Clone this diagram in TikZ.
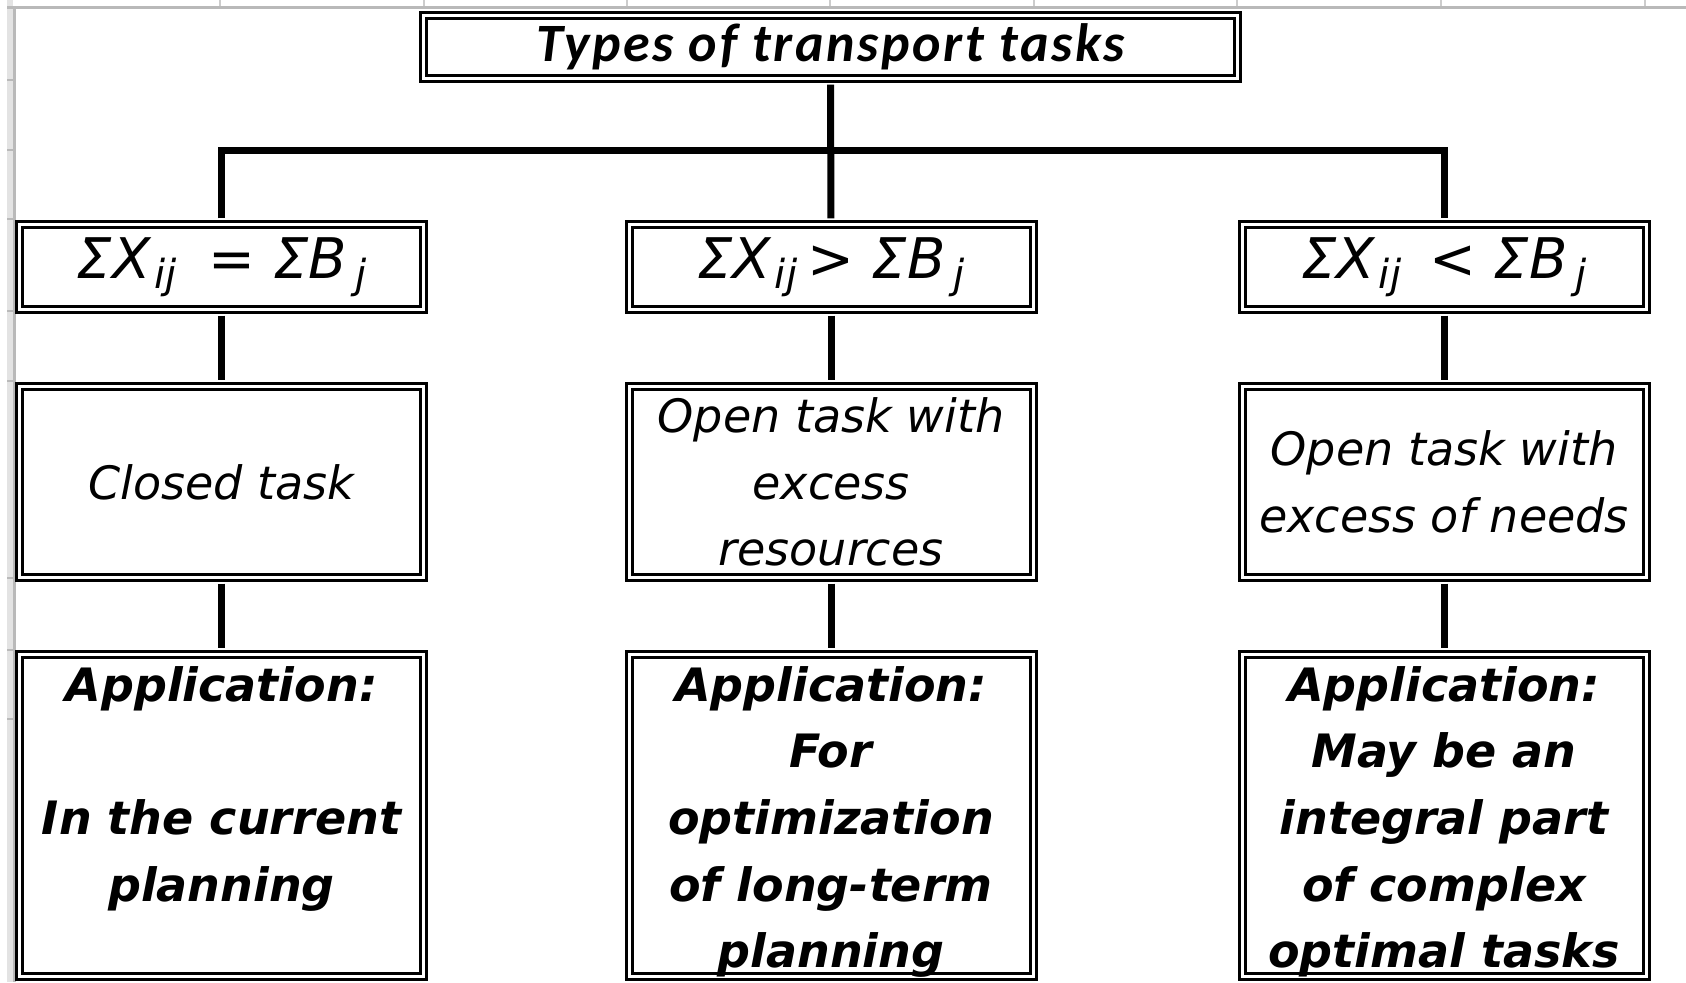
\documentclass[tikz,border=0pt]{standalone}
\usepackage{fontspec}
\setmainfont{DejaVu Sans}
\newfontfamily\headfont[LetterSpace=5]{Carlito}
\newcommand{\idx}[1]{\raisebox{-5pt}{\fontsize{20}{20}\selectfont\itshape #1}}
\begin{document}
\begin{tikzpicture}[x=0.5pt, y=-0.5pt,
  box/.style={draw, double, line width=1.5pt, double distance=1.5pt, fill=white, inner sep=0pt, align=center, minimum width=202pt},
  head/.style={box, minimum width=407pt, minimum height=31.5pt, font=\headfont\fontsize{27}{27}\selectfont\bfseries\itshape},
  cond/.style={box, minimum height=42.5pt, font=\fontsize{28}{28}\selectfont\itshape},
  kind/.style={box, minimum height=95.5pt, font=\fontsize{23}{33.3}\selectfont\itshape},
  use/.style={box, minimum height=161pt},
  usetext/.style={anchor=north, inner sep=0pt, align=center, font=\fontsize{23}{33.3}\selectfont\bfseries\itshape},
  link/.style={line width=3.5pt, shorten <=2.3pt, shorten >=2.3pt}]
\useasboundingbox (0,0) rectangle (1686,982);
% sheet gutter
\fill[gray!22] (7,0) rectangle (13,982);
\fill[gray!55] (13,7) rectangle (16,982);
\draw[gray!55, line width=1.5pt] (7,7) -- (1686,7);
\foreach \r in {80,150,219,311,381,578,650,719}
  \draw[gray!55, line width=1pt] (7,\r) -- (13,\r);
\foreach \c in {220,424,627,830,1034,1237,1441,1645}
  \draw[gray!40, line width=1pt] (\c,0) -- (\c,6);

\node[head] (types) at (830.5,47) {Types of transport tasks};

\node[cond] (eqL) at (221.5,267) {ΣX\kern2pt\idx{ij}\hspace{16pt}= ΣB\kern4pt\idx{j}};
\node[cond] (eqM) at (831,267) {ΣX\kern2pt\idx{ij}\kern5pt> ΣB\kern4pt\idx{j}};
\node[cond] (eqR) at (1444,267) {ΣX\kern2pt\idx{ij}\hspace{14pt}< ΣB\kern4pt\idx{j}};

\node[kind] (closed) at (221.5,482) {Closed task};
\node[kind] (surplus) at (831,482) {Open task with\\excess\\resources};
\node[kind] (deficit) at (1444,482) {Open task with\\excess of needs};

\node[use] (useL) at (221.5,815.5) {};
\node[use] (useM) at (831,815.5) {};
\node[use] (useR) at (1444,815.5) {};
\node[usetext] (useLtext) at ([yshift=-6.5pt]useL.north) {Application:\\~\\In the current\\planning};
\node[usetext] (useMtext) at ([yshift=-6.5pt]useM.north) {Application:\\For\\optimization\\of long-term\\planning};
\node[usetext] (useRtext) at ([yshift=-6.5pt]useR.north) {Application:\\May be an\\integral part\\of complex\\optimal tasks};

\coordinate (bar) at (830,150);
\draw[link] (types) -- (eqM);
\draw[link] (eqL) |- (bar) -| (eqR);
\draw[link] (eqL) -- (closed);
\draw[link] (eqM) -- (surplus);
\draw[link] (eqR) -- (deficit);
\draw[link] (closed) -- (useL);
\draw[link] (surplus) -- (useM);
\draw[link] (deficit) -- (useR);
\end{tikzpicture}
\end{document}
